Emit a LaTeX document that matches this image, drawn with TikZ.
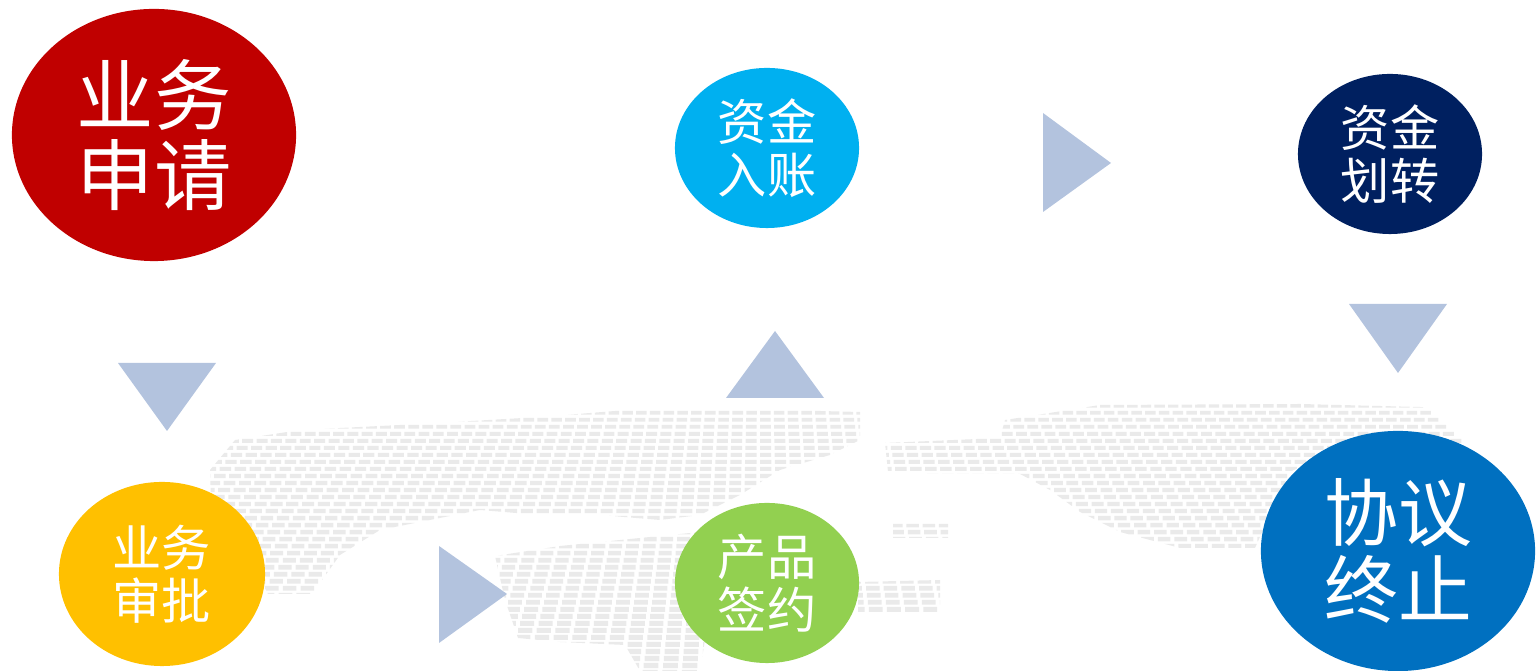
\documentclass[tikz,border=0pt]{standalone}
\usepackage{fontspec}
\usepackage{tikz}
\usetikzlibrary{shapes.geometric}
\newfontfamily\cjk{Noto Sans CJK SC}
\definecolor{applyred}{RGB}{192,0,0}
\definecolor{checkyellow}{RGB}{255,192,0}
\definecolor{signgreen}{RGB}{146,208,80}
\definecolor{fundcyan}{RGB}{0,176,240}
\definecolor{movenavy}{RGB}{0,32,96}
\definecolor{endblue}{RGB}{0,112,192}
\definecolor{trigray}{RGB}{179,195,222}
\definecolor{mapgray}{RGB}{234,234,234}

\begin{document}
\begin{tikzpicture}[x=0.01cm, y=-0.01cm,
    stepnode/.style={ellipse, inner sep=0pt, text=white, align=center},
    bignode/.style={stepnode, font=\cjk\fontsize{22}{23}\selectfont},
    smallnode/.style={stepnode, font=\cjk\fontsize{14}{15.2}\selectfont,
                      minimum width=1.84cm, minimum height=1.60cm},
    tri/.style={fill=trigray}]
    \clip (0,0) rectangle (1536,671);
    % map in the background
    \begin{scope}
      \clip (210,470) -- (235,440) -- (300,430) -- (420,424) -- (540,417) -- (640,409)
            -- (700,408) -- (860,412) -- (860,440) -- (830,455) -- (780,470) -- (740,495)
            -- (700,515) -- (660,520) -- (600,515) -- (540,515) -- (480,510) -- (430,520)
            -- (380,530) -- (340,555) -- (312,594) -- (268,594) -- (250,560) -- (212,530) -- cycle
            (495,556) -- (560,546) -- (640,538) -- (700,532) -- (725,560) -- (730,600)
            -- (705,640) -- (700,671) -- (640,671) -- (625,645) -- (560,642) -- (518,638)
            -- (505,600) -- cycle
            (858,582) -- (940,580) -- (940,612) -- (858,612) -- cycle
            (893,524) -- (948,524) -- (948,538) -- (893,538) -- cycle
            (885,443) -- (1000,438) -- (1005,420) -- (1100,405) -- (1300,404) -- (1420,407)
            -- (1500,411) -- (1500,442) -- (1400,447) -- (1330,452) -- (1290,472) -- (1272,510)
            -- (1255,548) -- (1180,548) -- (1120,532) -- (1080,512) -- (1050,490) -- (1020,474)
            -- (930,474) -- (888,472) -- cycle;
      \foreach \y in {404,411,...,670} {
        \pgfmathsetmacro\s{0.8+0.35*(\y-404)/266}
        \fill[mapgray] \foreach \i in {-48,...,48} {({760+\i*17*\s},\y) rectangle ++({13*\s},{4.5*\s})};
      }
    \end{scope}
    % arrows between the steps
    \fill[tri] (118,363) -- (216,363) -- (167,431) -- cycle;
    \fill[tri] (439,546) -- (507,594) -- (439,643) -- cycle;
    \fill[tri] (726,398) -- (824,398) -- (775,331) -- cycle;
    \fill[tri] (1043,113) -- (1111,163) -- (1043,212) -- cycle;
    \fill[tri] (1349,304) -- (1447,304) -- (1398,373) -- cycle;
    % steps
    \node[bignode, fill=applyred, minimum width=2.84cm, minimum height=2.52cm] (apply) at (154,135) {业务\\申请};
    \node[smallnode, fill=checkyellow, minimum width=2.06cm, minimum height=1.84cm] (check) at (162,574) {业务\\审批};
    \node[smallnode, fill=signgreen] (sign) at (767,583) {产品\\签约};
    \node[smallnode, fill=fundcyan] (fund) at (767,148) {资金\\入账};
    \node[smallnode, fill=movenavy] (move) at (1390,154) {资金\\划转};
    \node[bignode, fill=endblue, font=\cjk\fontsize{21}{22}\selectfont,
          minimum width=2.74cm, minimum height=2.40cm] (close) at (1398,551) {协议\\终止};
\end{tikzpicture}
\end{document}
